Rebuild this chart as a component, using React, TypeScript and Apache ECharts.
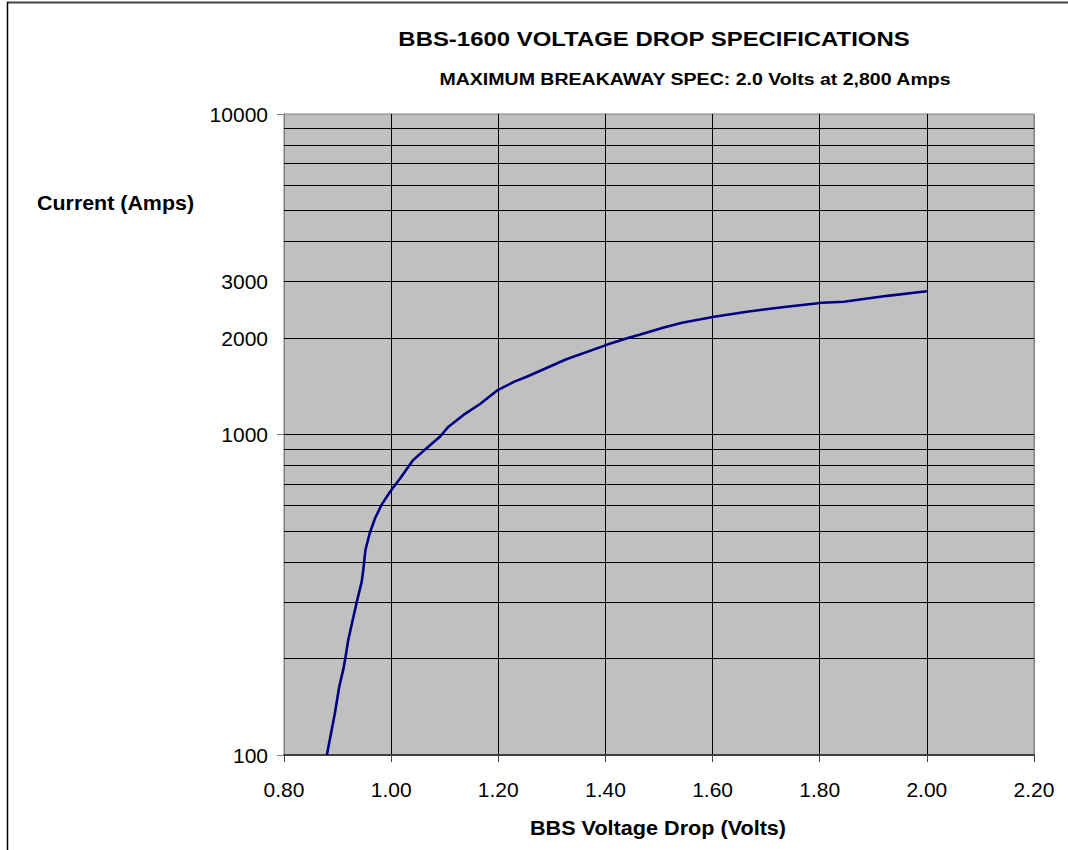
import React, { useEffect, useRef } from "react";
import * as echarts from "echarts";

const voltage = [0.88, 0.895, 0.903, 0.911, 0.915, 0.92, 0.929, 0.936, 0.945, 0.948, 0.952, 0.96, 0.97, 0.982, 0.998, 1.017, 1.041, 1.066, 1.091, 1.107, 1.135, 1.166, 1.199, 1.23, 1.253, 1.327, 1.405, 1.445, 1.462, 1.509, 1.543, 1.603, 1.664, 1.738, 1.805, 1.845, 1.926, 2.0];
const current = [100, 135, 163, 186, 203, 229, 267, 301, 347, 378, 436, 492, 548, 603, 663, 730, 832, 906, 984, 1058, 1151, 1245, 1376, 1462, 1514, 1717, 1911, 2009, 2043, 2158, 2233, 2331, 2416, 2505, 2577, 2596, 2708, 2800];
const gridValues = [200, 300, 400, 500, 600, 700, 800, 900, 1000, 2000, 3000, 4000, 5000, 6000, 7000, 8000, 9000];
const labelledGrid = [2000, 3000];

const FONT = "'Liberation Sans', Arial, sans-serif";

export default function App() {
  const ref = useRef<HTMLDivElement>(null);
  useEffect(() => {
    document.body.style.margin = "0";
    const chart = echarts.init(ref.current!, null, { renderer: "svg" });
    chart.setOption({
      animation: false,
      backgroundColor: "#ffffff",
      grid: {
        left: 284,
        top: 114,
        width: 750,
        height: 641,
        show: true,
        backgroundColor: "#C0C0C0",
        borderColor: "#808080",
        borderWidth: 1,
      },
      xAxis: {
        type: "value",
        min: 0.8,
        max: 2.2,
        interval: 0.2,
        axisLine: { show: true, lineStyle: { color: "#404040", width: 2 } },
        axisTick: { show: true, length: 7, lineStyle: { color: "#404040" } },
        axisLabel: {
          margin: 24,
          color: "#000",
          fontSize: 21,
          fontFamily: FONT,
          formatter: (v: number) => v.toFixed(2),
        },
        splitLine: {
          show: true,
          lineStyle: {
            color: ["#808080", "#000", "#000", "#000", "#000", "#000", "#000", "#808080"],
            width: 1,
          },
        },
      },
      yAxis: {
        type: "log",
        logBase: 10,
        min: 100,
        max: 10000,
        axisLine: { show: true, lineStyle: { color: "#808080", width: 1 } },
        axisTick: { show: true, length: 7, lineStyle: { color: "#808080" } },
        axisLabel: {
          margin: 16,
          color: "#000",
          fontSize: 21,
          fontFamily: FONT,
          formatter: (v: number) => String(Math.round(v)),
        },
        splitLine: { show: false },
      },
      series: [
        {
          type: "line",
          data: voltage.map((v, i) => [v, current[i]]),
          symbol: "none",
          lineStyle: { color: "#000080", width: 2.6 },
          markLine: {
            silent: true,
            symbol: ["none", "none"],
            lineStyle: { color: "#000", width: 1, type: "solid" },
            label: {
              show: true,
              position: "start",
              distance: 16,
              color: "#000",
              fontSize: 21,
              fontFamily: FONT,
              formatter: (p: any) => (labelledGrid.includes(p.value) ? String(p.value) : ""),
            },
            data: gridValues.map((v) => ({ yAxis: v })),
          },
          z: 5,
        },
      ],
      graphic: [
        { type: "line", shape: { x1: 7, y1: 2.5, x2: 1068, y2: 2.5 }, style: { stroke: "#404040", lineWidth: 2 } },
        { type: "line", shape: { x1: 7.5, y1: 2, x2: 7.5, y2: 850 }, style: { stroke: "#000", lineWidth: 1.5 } },
        {
          type: "text",
          x: 654,
          y: 39,
          scaleX: 1.14,
          style: { text: "BBS-1600 VOLTAGE DROP SPECIFICATIONS", font: `bold 21px ${FONT}`, fill: "#000", textAlign: "center", textVerticalAlign: "middle" },
        },
        {
          type: "text",
          x: 695,
          y: 79,
          scaleX: 1.15,
          style: { text: "MAXIMUM BREAKAWAY SPEC: 2.0 Volts at 2,800 Amps", font: `bold 17px ${FONT}`, fill: "#000", textAlign: "center", textVerticalAlign: "middle" },
        },
        {
          type: "text",
          x: 37,
          y: 203,
          scaleX: 1.02,
          style: { text: "Current (Amps)", font: `bold 21px ${FONT}`, fill: "#000", textAlign: "left", textVerticalAlign: "middle" },
        },
        {
          type: "text",
          x: 658,
          y: 828,
          scaleX: 1.03,
          style: { text: "BBS Voltage Drop (Volts)", font: `bold 21px ${FONT}`, fill: "#000", textAlign: "center", textVerticalAlign: "middle" },
        },
      ],
    });
    return () => chart.dispose();
  }, []);
  return <div ref={ref} style={{ width: 1068, height: 850 }} />;
}
